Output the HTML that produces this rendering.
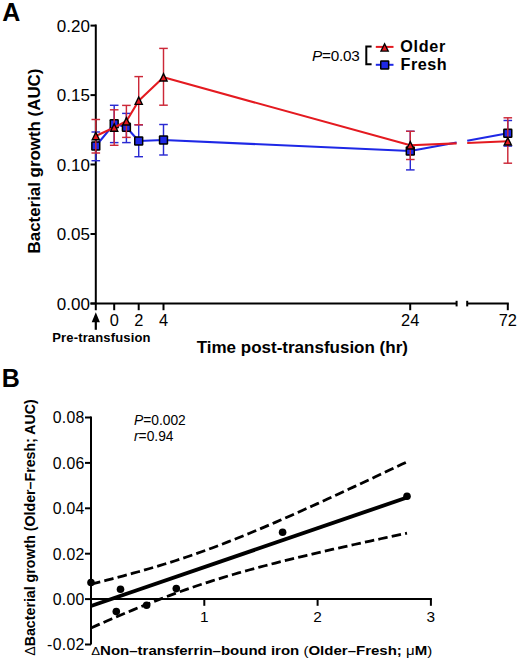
<!DOCTYPE html>
<html><head><meta charset="utf-8"><style>
html,body{margin:0;padding:0;background:#fff;}
svg{display:block;font-family:"Liberation Sans", sans-serif;}
</style></head><body>
<svg width="520" height="662" viewBox="0 0 520 662" fill="#000">
<rect width="520" height="662" fill="#fff"/>
<text x="2.3" y="20.8" font-size="25" font-weight="bold">A</text>
<text transform="translate(39.5,161) rotate(-90)" text-anchor="middle" font-size="16.9" font-weight="bold">Bacterial growth (AUC)</text>
<line x1="95.8" y1="24.6" x2="95.8" y2="310.2" stroke="#000" stroke-width="2"/>
<line x1="90.5" y1="25.6" x2="95.8" y2="25.6" stroke="#000" stroke-width="2"/>
<text x="89.9" y="31.6" text-anchor="end" font-size="17">0.20</text>
<line x1="90.5" y1="95.1" x2="95.8" y2="95.1" stroke="#000" stroke-width="2"/>
<text x="89.9" y="101.1" text-anchor="end" font-size="17">0.15</text>
<line x1="90.5" y1="164.5" x2="95.8" y2="164.5" stroke="#000" stroke-width="2"/>
<text x="89.9" y="170.5" text-anchor="end" font-size="17">0.10</text>
<line x1="90.5" y1="234.0" x2="95.8" y2="234.0" stroke="#000" stroke-width="2"/>
<text x="89.9" y="240.0" text-anchor="end" font-size="17">0.05</text>
<line x1="90.5" y1="303.5" x2="95.8" y2="303.5" stroke="#000" stroke-width="2"/>
<text x="89.9" y="309.5" text-anchor="end" font-size="17">0.00</text>
<line x1="90.5" y1="303.5" x2="456.6" y2="303.5" stroke="#000" stroke-width="2"/>
<line x1="467.2" y1="303.5" x2="508.8" y2="303.5" stroke="#000" stroke-width="2"/>
<line x1="456.6" y1="300.8" x2="456.6" y2="306.4" stroke="#000" stroke-width="2"/>
<line x1="467.2" y1="300.8" x2="467.2" y2="306.4" stroke="#000" stroke-width="2"/>
<line x1="114.2" y1="303.5" x2="114.2" y2="310.2" stroke="#000" stroke-width="2"/>
<text x="114.2" y="325.9" text-anchor="middle" font-size="16.4">0</text>
<line x1="138.7" y1="303.5" x2="138.7" y2="310.2" stroke="#000" stroke-width="2"/>
<text x="138.7" y="325.9" text-anchor="middle" font-size="16.4">2</text>
<line x1="163.5" y1="303.5" x2="163.5" y2="310.2" stroke="#000" stroke-width="2"/>
<text x="163.5" y="325.9" text-anchor="middle" font-size="16.4">4</text>
<line x1="410.2" y1="303.5" x2="410.2" y2="310.2" stroke="#000" stroke-width="2"/>
<text x="410.2" y="325.9" text-anchor="middle" font-size="16.4">24</text>
<line x1="507.8" y1="303.5" x2="507.8" y2="310.2" stroke="#000" stroke-width="2"/>
<text x="507.8" y="325.9" text-anchor="middle" font-size="16.4">72</text>
<line x1="95.8" y1="318" x2="95.8" y2="329.8" stroke="#000" stroke-width="2.2"/>
<path d="M95.8 312.2 L99.89999999999999 322.2 L91.7 322.2 Z" fill="#000"/>
<text x="52.3" y="342.4" font-size="13" font-weight="bold" letter-spacing="0.15">Pre-transfusion</text>
<text x="302.3" y="352.7" text-anchor="middle" font-size="17" font-weight="bold">Time post-transfusion (hr)</text>
<text x="311.9" y="61.2" font-size="15.3" letter-spacing="-0.2"><tspan font-style="italic">P</tspan>=0.03</text>
<path d="M371.6 46.4 H366.3 V64.2 H371.6" fill="none" stroke="#000" stroke-width="2"/>
<line x1="375.8" y1="46.9" x2="393.5" y2="46.9" stroke="#e41a20" stroke-width="2.0"/>
<line x1="375.8" y1="64.8" x2="393.5" y2="64.8" stroke="#1e28e6" stroke-width="2.0"/>
<path d="M384.60 42.22 L389.30 51.82 L379.90 51.82 Z" fill="#000"/><path d="M384.60 45.29 L387.14 50.47 L382.06 50.47 Z" fill="#e41a20"/>
<rect x="380.00" y="60.30" width="9.4" height="9.4" rx="1.2" fill="#000"/><rect x="381.50" y="61.80" width="6.40" height="6.40" fill="#1e28e6"/>
<text x="400.3" y="52.1" font-size="16.2" font-weight="bold" letter-spacing="0.7">Older</text>
<text x="400.6" y="70.3" font-size="16.2" font-weight="bold" letter-spacing="0.47">Fresh</text>
<line x1="95.8" y1="132.0" x2="95.8" y2="160.7" stroke="#2a2ad2" stroke-width="1.45"/><line x1="91.5" y1="132.0" x2="100.1" y2="132.0" stroke="#2a2ad2" stroke-width="1.45"/><line x1="91.5" y1="160.7" x2="100.1" y2="160.7" stroke="#2a2ad2" stroke-width="1.45"/>
<line x1="114.2" y1="105.3" x2="114.2" y2="142.6" stroke="#2a2ad2" stroke-width="1.45"/><line x1="109.9" y1="105.3" x2="118.5" y2="105.3" stroke="#2a2ad2" stroke-width="1.45"/><line x1="109.9" y1="142.6" x2="118.5" y2="142.6" stroke="#2a2ad2" stroke-width="1.45"/>
<line x1="126.4" y1="113.4" x2="126.4" y2="142.6" stroke="#2a2ad2" stroke-width="1.45"/><line x1="122.10000000000001" y1="113.4" x2="130.70000000000002" y2="113.4" stroke="#2a2ad2" stroke-width="1.45"/><line x1="122.10000000000001" y1="142.6" x2="130.70000000000002" y2="142.6" stroke="#2a2ad2" stroke-width="1.45"/>
<line x1="138.7" y1="124.8" x2="138.7" y2="156.7" stroke="#2a2ad2" stroke-width="1.45"/><line x1="134.39999999999998" y1="124.8" x2="143.0" y2="124.8" stroke="#2a2ad2" stroke-width="1.45"/><line x1="134.39999999999998" y1="156.7" x2="143.0" y2="156.7" stroke="#2a2ad2" stroke-width="1.45"/>
<line x1="163.5" y1="124.5" x2="163.5" y2="155.0" stroke="#2a2ad2" stroke-width="1.45"/><line x1="159.2" y1="124.5" x2="167.8" y2="124.5" stroke="#2a2ad2" stroke-width="1.45"/><line x1="159.2" y1="155.0" x2="167.8" y2="155.0" stroke="#2a2ad2" stroke-width="1.45"/>
<line x1="410.3" y1="131.3" x2="410.3" y2="169.9" stroke="#2a2ad2" stroke-width="1.45"/><line x1="406.0" y1="131.3" x2="414.6" y2="131.3" stroke="#2a2ad2" stroke-width="1.45"/><line x1="406.0" y1="169.9" x2="414.6" y2="169.9" stroke="#2a2ad2" stroke-width="1.45"/>
<line x1="507.8" y1="120.5" x2="507.8" y2="146.1" stroke="#2a2ad2" stroke-width="1.45"/><line x1="503.5" y1="120.5" x2="512.1" y2="120.5" stroke="#2a2ad2" stroke-width="1.45"/><line x1="503.5" y1="146.1" x2="512.1" y2="146.1" stroke="#2a2ad2" stroke-width="1.45"/>
<path d="M95.80 146.00 L114.20 123.80 L126.40 127.30 L138.70 141.00 L163.50 140.00 L410.30 151.00 L456.60 142.59" fill="none" stroke="#1e28e6" stroke-width="2.1" stroke-linejoin="round"/><path d="M467.20 140.67 L507.80 133.30" fill="none" stroke="#1e28e6" stroke-width="2.1" stroke-linejoin="round"/>
<rect x="91.10" y="141.30" width="9.4" height="9.4" rx="1.2" fill="#000"/><rect x="92.60" y="142.80" width="6.40" height="6.40" fill="#1e28e6"/>
<rect x="109.50" y="119.10" width="9.4" height="9.4" rx="1.2" fill="#000"/><rect x="111.00" y="120.60" width="6.40" height="6.40" fill="#1e28e6"/>
<rect x="121.70" y="122.60" width="9.4" height="9.4" rx="1.2" fill="#000"/><rect x="123.20" y="124.10" width="6.40" height="6.40" fill="#1e28e6"/>
<rect x="134.00" y="136.30" width="9.4" height="9.4" rx="1.2" fill="#000"/><rect x="135.50" y="137.80" width="6.40" height="6.40" fill="#1e28e6"/>
<rect x="158.80" y="135.30" width="9.4" height="9.4" rx="1.2" fill="#000"/><rect x="160.30" y="136.80" width="6.40" height="6.40" fill="#1e28e6"/>
<rect x="405.60" y="146.30" width="9.4" height="9.4" rx="1.2" fill="#000"/><rect x="407.10" y="147.80" width="6.40" height="6.40" fill="#1e28e6"/>
<rect x="503.10" y="128.60" width="9.4" height="9.4" rx="1.2" fill="#000"/><rect x="504.60" y="130.10" width="6.40" height="6.40" fill="#1e28e6"/>
<line x1="95.8" y1="119.5" x2="95.8" y2="153.0" stroke="#cc2838" stroke-width="1.45"/><line x1="91.5" y1="119.5" x2="100.1" y2="119.5" stroke="#cc2838" stroke-width="1.45"/><line x1="91.5" y1="153.0" x2="100.1" y2="153.0" stroke="#cc2838" stroke-width="1.45"/>
<line x1="114.2" y1="109.8" x2="114.2" y2="145.3" stroke="#cc2838" stroke-width="1.45"/><line x1="109.9" y1="109.8" x2="118.5" y2="109.8" stroke="#cc2838" stroke-width="1.45"/><line x1="109.9" y1="145.3" x2="118.5" y2="145.3" stroke="#cc2838" stroke-width="1.45"/>
<line x1="126.4" y1="105.4" x2="126.4" y2="137.4" stroke="#cc2838" stroke-width="1.45"/><line x1="122.10000000000001" y1="105.4" x2="130.70000000000002" y2="105.4" stroke="#cc2838" stroke-width="1.45"/><line x1="122.10000000000001" y1="137.4" x2="130.70000000000002" y2="137.4" stroke="#cc2838" stroke-width="1.45"/>
<line x1="138.7" y1="76.6" x2="138.7" y2="124.8" stroke="#cc2838" stroke-width="1.45"/><line x1="134.39999999999998" y1="76.6" x2="143.0" y2="76.6" stroke="#cc2838" stroke-width="1.45"/><line x1="134.39999999999998" y1="124.8" x2="143.0" y2="124.8" stroke="#cc2838" stroke-width="1.45"/>
<line x1="163.5" y1="48.4" x2="163.5" y2="105.2" stroke="#cc2838" stroke-width="1.45"/><line x1="159.2" y1="48.4" x2="167.8" y2="48.4" stroke="#cc2838" stroke-width="1.45"/><line x1="159.2" y1="105.2" x2="167.8" y2="105.2" stroke="#cc2838" stroke-width="1.45"/>
<line x1="410.3" y1="131.3" x2="410.3" y2="159.5" stroke="#cc2838" stroke-width="1.45"/><line x1="406.0" y1="131.3" x2="414.6" y2="131.3" stroke="#cc2838" stroke-width="1.45"/><line x1="406.0" y1="159.5" x2="414.6" y2="159.5" stroke="#cc2838" stroke-width="1.45"/>
<line x1="507.8" y1="117.8" x2="507.8" y2="163.2" stroke="#cc2838" stroke-width="1.45"/><line x1="503.5" y1="117.8" x2="512.1" y2="117.8" stroke="#cc2838" stroke-width="1.45"/><line x1="503.5" y1="163.2" x2="512.1" y2="163.2" stroke="#cc2838" stroke-width="1.45"/>
<path d="M95.80 136.00 L114.20 127.50 L126.40 121.30 L138.70 100.70 L163.50 77.30 L410.30 145.30 L456.60 143.40" fill="none" stroke="#e41a20" stroke-width="2.1" stroke-linejoin="round"/><path d="M467.20 142.97 L507.80 141.30" fill="none" stroke="#e41a20" stroke-width="2.1" stroke-linejoin="round"/>
<path d="M95.80 130.82 L100.50 140.42 L91.10 140.42 Z" fill="#000"/><path d="M95.80 133.89 L98.34 139.07 L93.26 139.07 Z" fill="#e41a20"/>
<path d="M114.20 122.32 L118.90 131.92 L109.50 131.92 Z" fill="#000"/><path d="M114.20 125.39 L116.74 130.57 L111.66 130.57 Z" fill="#e41a20"/>
<path d="M126.40 116.12 L131.10 125.72 L121.70 125.72 Z" fill="#000"/><path d="M126.40 119.19 L128.94 124.37 L123.86 124.37 Z" fill="#e41a20"/>
<path d="M138.70 95.52 L143.40 105.12 L134.00 105.12 Z" fill="#000"/><path d="M138.70 98.59 L141.24 103.77 L136.16 103.77 Z" fill="#e41a20"/>
<path d="M163.50 72.12 L168.20 81.72 L158.80 81.72 Z" fill="#000"/><path d="M163.50 75.19 L166.04 80.37 L160.96 80.37 Z" fill="#e41a20"/>
<path d="M410.30 140.12 L415.00 149.72 L405.60 149.72 Z" fill="#000"/><path d="M410.30 143.19 L412.84 148.37 L407.76 148.37 Z" fill="#e41a20"/>
<path d="M507.80 136.12 L512.50 145.72 L503.10 145.72 Z" fill="#000"/><path d="M507.80 139.19 L510.34 144.37 L505.26 144.37 Z" fill="#e41a20"/>
<text x="1.7" y="387.1" font-size="25" font-weight="bold">B</text>
<text transform="translate(34.7,527.5) rotate(-90)" text-anchor="middle" font-size="14.2" font-weight="bold"><tspan font-weight="normal">&#916;</tspan>Bacterial growth (Older&#8211;Fresh; AUC)</text>
<line x1="91.0" y1="416.5" x2="91.0" y2="644.5" stroke="#000" stroke-width="2"/>
<line x1="85" y1="417.5" x2="91.0" y2="417.5" stroke="#000" stroke-width="2"/>
<text x="84.6" y="423.4" text-anchor="end" font-size="15.8" letter-spacing="0.3">0.08</text>
<line x1="85" y1="462.9" x2="91.0" y2="462.9" stroke="#000" stroke-width="2"/>
<text x="84.6" y="468.79999999999995" text-anchor="end" font-size="15.8" letter-spacing="0.3">0.06</text>
<line x1="85" y1="508.3" x2="91.0" y2="508.3" stroke="#000" stroke-width="2"/>
<text x="84.6" y="514.2" text-anchor="end" font-size="15.8" letter-spacing="0.3">0.04</text>
<line x1="85" y1="553.7" x2="91.0" y2="553.7" stroke="#000" stroke-width="2"/>
<text x="84.6" y="559.6" text-anchor="end" font-size="15.8" letter-spacing="0.3">0.02</text>
<line x1="85" y1="599.1" x2="91.0" y2="599.1" stroke="#000" stroke-width="2"/>
<text x="84.6" y="605.0" text-anchor="end" font-size="15.8" letter-spacing="0.3">0.00</text>
<line x1="85" y1="644.5" x2="91.0" y2="644.5" stroke="#000" stroke-width="2"/>
<text x="84.6" y="650.4" text-anchor="end" font-size="15.8" letter-spacing="0.3">-0.02</text>
<line x1="91.0" y1="599.1" x2="431.9" y2="599.1" stroke="#000" stroke-width="2"/>
<line x1="204.3" y1="599.1" x2="204.3" y2="605.8" stroke="#000" stroke-width="2"/>
<text x="204.3" y="621.6" text-anchor="middle" font-size="15.4">1</text>
<line x1="317.6" y1="599.1" x2="317.6" y2="605.8" stroke="#000" stroke-width="2"/>
<text x="317.6" y="621.6" text-anchor="middle" font-size="15.4">2</text>
<line x1="430.9" y1="599.1" x2="430.9" y2="605.8" stroke="#000" stroke-width="2"/>
<text x="430.9" y="621.6" text-anchor="middle" font-size="15.4">3</text>
<text x="91.2" y="655.3" font-size="13" font-weight="bold" textLength="341" lengthAdjust="spacingAndGlyphs"><tspan font-weight="normal" font-size="11.5">&#916;</tspan>Non&#8211;transferrin&#8211;bound iron <tspan font-weight="normal">(</tspan>Older&#8211;Fresh; <tspan font-weight="normal">&#956;</tspan>M<tspan font-weight="normal">)</tspan></text>
<text x="134" y="425" font-size="13.8"><tspan font-style="italic">P</tspan>=0.002</text>
<text x="134" y="441.3" font-size="13.8"><tspan font-style="italic">r</tspan>=0.94</text>
<line x1="91" y1="606.00" x2="407" y2="497.49" stroke="#000" stroke-width="3.9"/>
<path d="M91.00 584.07 L96.27 582.78 L101.53 581.47 L106.80 580.14 L112.07 578.80 L117.33 577.44 L122.60 576.05 L127.87 574.64 L133.13 573.21 L138.40 571.75 L143.67 570.27 L148.93 568.76 L154.20 567.21 L159.47 565.64 L164.73 564.03 L170.00 562.39 L175.27 560.71 L180.53 559.00 L185.80 557.25 L191.07 555.46 L196.33 553.64 L201.60 551.77 L206.87 549.88 L212.13 547.94 L217.40 545.97 L222.67 543.97 L227.93 541.93 L233.20 539.86 L238.47 537.77 L243.73 535.64 L249.00 533.48 L254.27 531.30 L259.53 529.10 L264.80 526.87 L270.07 524.62 L275.33 522.35 L280.60 520.06 L285.87 517.75 L291.13 515.43 L296.40 513.09 L301.67 510.74 L306.93 508.38 L312.20 506.00 L317.47 503.61 L322.73 501.22 L328.00 498.81 L333.27 496.39 L338.53 493.96 L343.80 491.53 L349.07 489.09 L354.33 486.64 L359.60 484.18 L364.87 481.72 L370.13 479.26 L375.40 476.78 L380.67 474.31 L385.93 471.83 L391.20 469.34 L396.47 466.85 L401.73 464.35 L407.00 461.86" fill="none" stroke="#000" stroke-width="2.8" stroke-dasharray="9.5 4.2"/>
<path d="M91.00 627.93 L96.27 625.60 L101.53 623.30 L106.80 621.00 L112.07 618.73 L117.33 616.48 L122.60 614.25 L127.87 612.04 L133.13 609.85 L138.40 607.69 L143.67 605.56 L148.93 603.46 L154.20 601.38 L159.47 599.34 L164.73 597.33 L170.00 595.36 L175.27 593.42 L180.53 591.51 L185.80 589.64 L191.07 587.81 L196.33 586.02 L201.60 584.27 L206.87 582.55 L212.13 580.86 L217.40 579.22 L222.67 577.60 L227.93 576.02 L233.20 574.47 L238.47 572.95 L243.73 571.47 L249.00 570.00 L254.27 568.57 L259.53 567.16 L264.80 565.77 L270.07 564.40 L275.33 563.05 L280.60 561.72 L285.87 560.41 L291.13 559.12 L296.40 557.84 L301.67 556.57 L306.93 555.32 L312.20 554.08 L317.47 552.85 L322.73 551.63 L328.00 550.42 L333.27 549.22 L338.53 548.03 L343.80 546.85 L349.07 545.67 L354.33 544.50 L359.60 543.34 L364.87 542.19 L370.13 541.03 L375.40 539.89 L380.67 538.75 L385.93 537.61 L391.20 536.48 L396.47 535.36 L401.73 534.23 L407.00 533.11" fill="none" stroke="#000" stroke-width="2.8" stroke-dasharray="9.5 4.2"/>
<circle cx="91" cy="582.5" r="3.8" fill="#000"/>
<circle cx="120.5" cy="589.3" r="3.8" fill="#000"/>
<circle cx="116.3" cy="611.5" r="3.8" fill="#000"/>
<circle cx="146.6" cy="605.2" r="3.8" fill="#000"/>
<circle cx="176.3" cy="588.6" r="3.8" fill="#000"/>
<circle cx="282.6" cy="532.2" r="3.8" fill="#000"/>
<circle cx="407" cy="496.3" r="3.8" fill="#000"/>
</svg>
</body></html>
